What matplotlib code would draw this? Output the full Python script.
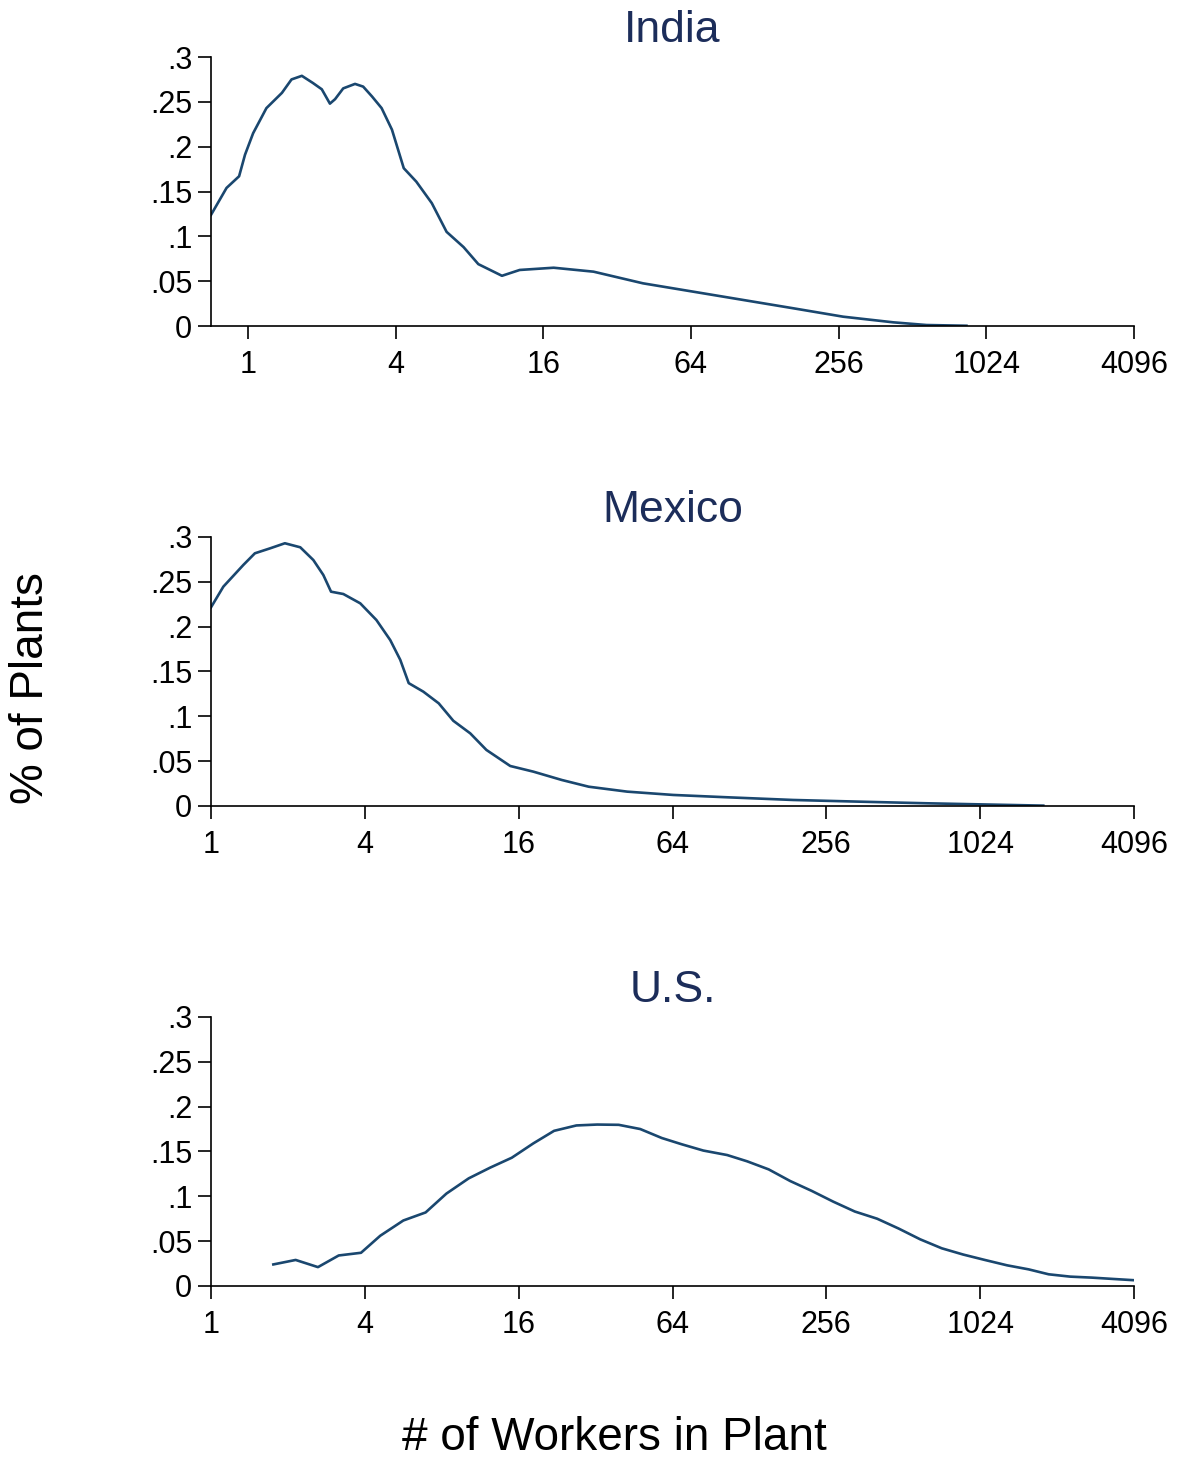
import matplotlib
matplotlib.use("Agg")
import matplotlib.pyplot as plt
import numpy as np

plt.rcParams['font.family'] = ['Liberation Sans', 'DejaVu Sans']

# data: x in log2(# workers), y = share of plants
india_log2 = [-0.5, -0.29, -0.12, -0.04, 0.07, 0.25, 0.46, 0.59, 0.73, 0.88,
              1.0, 1.11, 1.18, 1.29, 1.45, 1.56, 1.68, 1.81, 1.95, 2.11,
              2.28, 2.49, 2.69, 2.92, 3.12, 3.44, 3.68, 4.14, 4.68, 5.35,
              6.03, 6.71, 7.39, 8.06, 8.74, 9.19, 9.73]
india_share = [0.124, 0.154, 0.167, 0.191, 0.215, 0.243, 0.260, 0.275, 0.279, 0.271,
               0.264, 0.248, 0.253, 0.265, 0.270, 0.267, 0.256, 0.243, 0.219, 0.176,
               0.161, 0.137, 0.105, 0.088, 0.069, 0.056, 0.0625, 0.065, 0.0606, 0.0476,
               0.0383, 0.029, 0.0197, 0.0104, 0.0041, 0.0011, 0.0003]

mexico_log2 = [0.0, 0.16, 0.42, 0.57, 0.77, 0.96, 1.16, 1.33, 1.46, 1.56,
               1.72, 1.94, 2.15, 2.33, 2.46, 2.57, 2.76, 2.96, 3.15, 3.37,
               3.58, 3.89, 4.19, 4.56, 4.91, 5.41, 6.01, 6.71, 7.57, 8.44,
               9.31, 10.17, 10.82]
mexico_share = [0.2216, 0.2446, 0.2688, 0.2818, 0.2874, 0.293, 0.2885, 0.2743, 0.2576, 0.239,
                0.2364, 0.226, 0.2074, 0.185, 0.163, 0.137, 0.1275, 0.1145, 0.095, 0.081,
                0.0625, 0.0446, 0.0383, 0.029, 0.0215, 0.016, 0.0123, 0.0097, 0.0067, 0.0048,
                0.003, 0.0015, 0.0004]

us_log2 = [0.81, 1.10, 1.39, 1.66, 1.95, 2.20, 2.50, 2.79, 3.06, 3.35,
           3.63, 3.91, 4.19, 4.46, 4.75, 5.02, 5.30, 5.58, 5.86, 6.12,
           6.40, 6.71, 6.97, 7.25, 7.53, 7.81, 8.09, 8.37, 8.66, 8.94,
           9.22, 9.50, 9.78, 10.06, 10.35, 10.63, 10.89, 11.17, 11.45, 11.73,
           12.02]
us_share = [0.024, 0.029, 0.021, 0.034, 0.037, 0.056, 0.073, 0.082, 0.103, 0.120,
            0.132, 0.143, 0.159, 0.173, 0.179, 0.180, 0.1797, 0.175, 0.165, 0.158,
            0.151, 0.146, 0.139, 0.130, 0.117, 0.106, 0.094, 0.083, 0.075, 0.064,
            0.052, 0.042, 0.035, 0.029, 0.023, 0.0185, 0.013, 0.0104, 0.0093, 0.0078,
            0.0063]

x_ticks = [1, 4, 16, 64, 256, 1024, 4096]
y_ticks = [0, 0.05, 0.1, 0.15, 0.2, 0.25, 0.3]
y_tick_labels = ['0', '.05', '.1', '.15', '.2', '.25', '.3']

line_color = '#1a476f'
title_color = '#1c2d5a'

fig = plt.figure(figsize=(11.77, 14.58), dpi=100)

panels = [
    ('India', india_log2, india_share, 2 ** -0.5, 0.7764),
    ('Mexico', mexico_log2, mexico_share, 1, 0.4472),
    ('U.S.', us_log2, us_share, 1, 0.1180),
]

for name, lx, ys, xmin, bottom in panels:
    ax = fig.add_axes([0.1793, bottom, 0.7842, 0.1845])
    ax.plot(np.power(2.0, lx), ys, color=line_color, lw=1.9)
    ax.set_xscale('log', base=2)
    ax.set_xlim(xmin, 4096)
    ax.set_ylim(0, 0.3)
    ax.set_xticks(x_ticks)
    ax.set_xticklabels([str(t) for t in x_ticks])
    ax.minorticks_off()
    ax.set_yticks(y_ticks)
    ax.set_yticklabels(y_tick_labels)
    ax.spines['top'].set_visible(False)
    ax.spines['right'].set_visible(False)
    ax.spines['left'].set_linewidth(1.2)
    ax.spines['bottom'].set_linewidth(1.2)
    ax.tick_params(axis='both', direction='out', length=9.5, width=1.2,
                   labelsize=22, pad=4)
    ax.tick_params(axis='x', pad=8)
    ax.set_title(name, fontsize=32, color=title_color, pad=11)

fig.text(0.026, 0.528, '% of Plants', rotation=90, fontsize=33,
         ha='center', va='center')
fig.text(0.522, 0.0137, '# of Workers in Plant', fontsize=33,
         ha='center', va='center')

fig.savefig('out.png', dpi=100)
